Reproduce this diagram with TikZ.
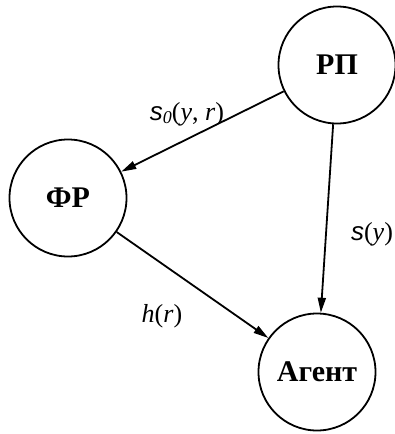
\documentclass[tikz,border=0pt]{standalone}
\usepackage{fontspec}
\setmainfont{Liberation Serif}
\newfontfamily\sletter{Liberation Sans}
\usetikzlibrary{arrows.meta}
\newcommand{\sv}{{\sletter\itshape s}}
\newcommand{\iv}[1]{\textit{#1}}
\begin{document}
\begin{tikzpicture}[x=1pt,y=-1pt,
  agent/.style={draw,circle,line width=1.8pt,minimum size=117pt,inner sep=0pt,font=\fontsize{30}{34}\selectfont\bfseries},
  link/.style={line width=1.8pt,-{Triangle[length=15pt,width=8pt]}},
  lbl/.style={font=\fontsize{26}{30}\selectfont,inner sep=0pt}]
\useasboundingbox (0,0) rectangle (395,434);
\node[agent] (rp) at (337,65) {РП};
\node[agent] (fr) at (68,198) {ФР};
\node[agent] (ag) at (317,372) {Агент};
\draw[link] (rp) -- (fr);
\draw[link] (rp) -- (ag);
\draw[link] (fr) -- (ag);
\node[lbl] (l1) at (187,114) {\sv\raisebox{-0.12em}{\fontsize{18}{20}\selectfont\itshape 0}(\iv{y}, \iv{r})};
\node[lbl] (l2) at (372,234) {\sv(\iv{y})};
\node[lbl] (l3) at (162,316) {\iv{h}(\iv{r})};
\end{tikzpicture}
\end{document}
